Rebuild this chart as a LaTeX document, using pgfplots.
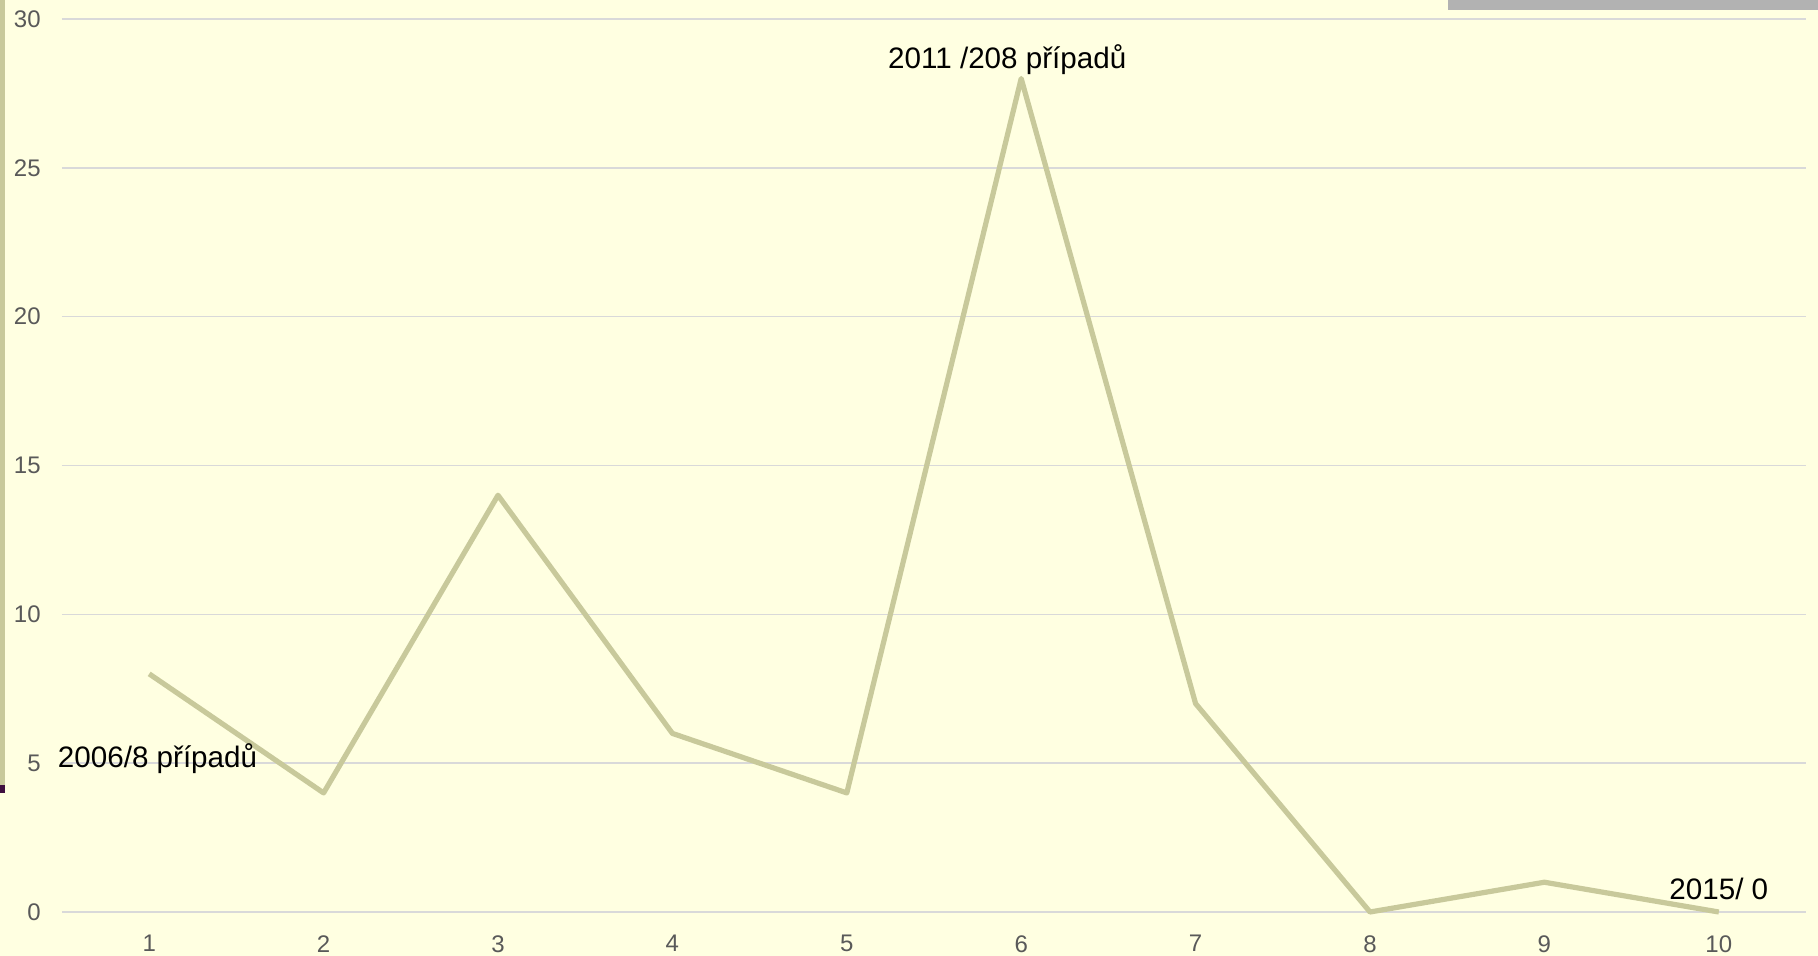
\documentclass[border=0pt]{standalone}
\usepackage{pgfplots}
\pgfplotsset{compat=1.18}
\usepackage{fontspec}
\setmainfont{Liberation Sans}
\definecolor{bg}{HTML}{FFFFE1}
\definecolor{linec}{HTML}{C8C99B}
\definecolor{gridc}{HTML}{D9D9D9}
\definecolor{tickc}{HTML}{595959}
\definecolor{barc}{HTML}{B2B2B2}
\definecolor{darkp}{HTML}{3F0F3F}
\begin{document}
\begin{tikzpicture}
\fill[bg] (0,0) rectangle (1363.5pt,717pt);
\useasboundingbox (0,0) rectangle (1363.5pt,717pt);
% slide decorations
\fill[linec] (0,128.25pt) rectangle (3.75pt,717pt);
\fill[darkp] (0,122.25pt) rectangle (3.75pt,128.25pt);
\fill[barc] (1086pt,709.5pt) rectangle (1363.5pt,717pt);
\begin{axis}[
  at={(46.5pt,33pt)}, anchor=south west,
  scale only axis, width=1308pt, height=669.75pt,
  xmin=0.5, xmax=10.5, ymin=0, ymax=30,
  xtick={1,...,10}, ytick={0,5,...,30},
  ymajorgrids, grid style={gridc, line width=1.2pt},
  axis line style={draw=none}, major tick length=0pt,
  tick label style={font=\fontsize{18}{20}\selectfont, text=tickc},
  /pgf/number format/assume math mode=true,
  yticklabel style={xshift=-12.5pt},
  xticklabel style={yshift=-14pt},
  clip=false,
]
\addplot[linec, line width=3.9pt, line join=round] coordinates {
(1,8)(2,4)(3,14)(4,6)(5,4)(6,28)(7,7)(8,0)(9,1)(10,0)};
\node[font=\fontsize{22.2}{25}\selectfont] at (axis cs:5.92,28.65) {2011 /208 případů};
\node[font=\fontsize{22.2}{25}\selectfont, anchor=west] at (axis cs:0.45,5.15) {2006/8 případů};
\node[font=\fontsize{22.2}{25}\selectfont] at (axis cs:10.0,0.77) {2015/ 0};
\end{axis}
\end{tikzpicture}
\end{document}
